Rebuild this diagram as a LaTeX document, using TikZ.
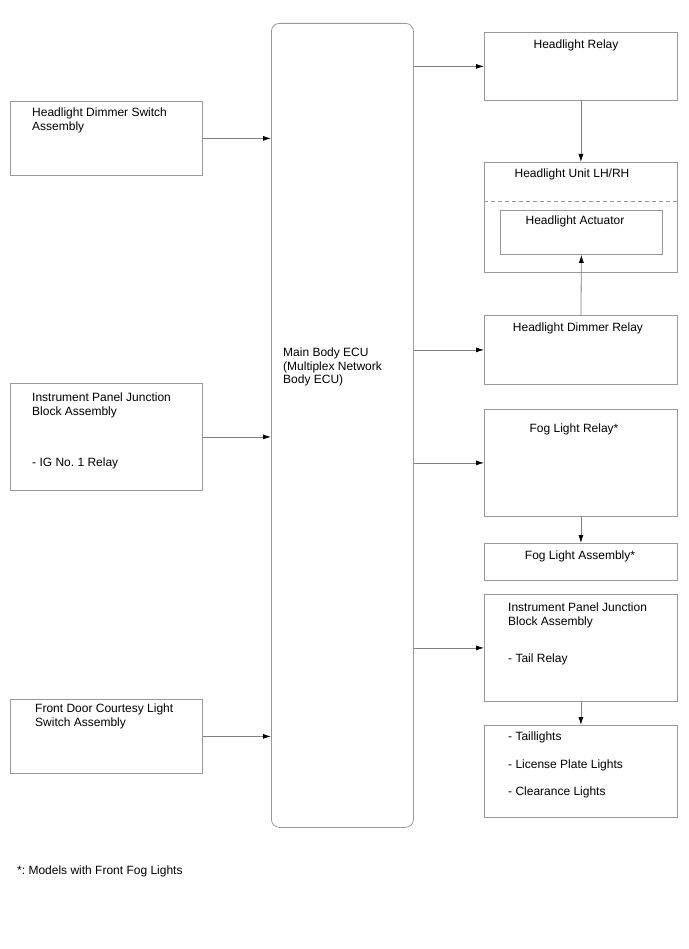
\documentclass[tikz,border=0pt]{standalone}
\usepackage{fontspec}
\setmainfont{Liberation Sans}
\frenchspacing
\usetikzlibrary{arrows.meta,calc,positioning}
\definecolor{edge}{HTML}{999999}
\definecolor{wire}{HTML}{808080}
\tikzset{pin/.style={-{Latex[length=8pt,width=5pt,black]}, draw=wire, line width=0.8pt},
  blk/.style={draw=edge, line width=0.8pt, anchor=north west, inner sep=0},
  txt/.style={font=\fontsize{12}{13.5}\selectfont, align=left, inner sep=0}}

\begin{document}
\begin{tikzpicture}[x=1pt, y=-1pt]
  \useasboundingbox (0,0) rectangle (688,949);
  % inputs
  \node[blk, minimum width=192, minimum height=74] (dimsw) at (10,101) {};
  \node[blk, minimum width=192, minimum height=107] (ipjbin) at (10,383) {};
  \node[blk, minimum width=192, minimum height=74] (courtesy) at (10,699) {};
  \node[blk, minimum width=142, minimum height=804, rounded corners=8pt] (ecu) at (271,23) {};
  % outputs
  \node[blk, minimum width=193, minimum height=68] (hrelay) at (484,32) {};
  \node[blk, minimum width=193, minimum height=110] (hunit) at (484,162) {};
  \node[blk, minimum width=162, minimum height=44] (actuator) at (500,210) {};
  \node[blk, minimum width=193, minimum height=69] (dimrelay) at (484,315) {};
  \node[blk, minimum width=193, minimum height=107] (fogrelay) at (484,409) {};
  \node[blk, minimum width=193, minimum height=37] (fogassy) at (484,543) {};
  \node[blk, minimum width=193, minimum height=107] (ipjbout) at (484,594) {};
  \node[blk, minimum width=193, minimum height=92] (lamps) at (484,725) {};
  \draw[edge, line width=0.8pt, dash pattern=on 4pt off 3pt] ($(hunit.north west)+(0,39)$) -- ($(hunit.north east)+(0,39)$);

  \node[txt, anchor=north west] (dimswtxt) at (32,108) {Headlight Dimmer Switch\\Assembly};
  \node[txt, anchor=north west] (ipjbintxt) at (32,393) {Instrument Panel Junction\\Block Assembly\\[38pt]- IG No. 1 Relay};
  \node[txt, anchor=north west] (courtesytxt) at (35,704) {Front Door Courtesy Light\\Switch Assembly};
  \node[txt, anchor=north west] (ecutxt) at (283,348) {Main Body ECU\\(Multiplex Network\\Body ECU)};
  \node[txt, anchor=north] (hrelaytxt) at (576,40) {Headlight Relay};
  \node[txt, anchor=north] (hunittxt) at (572,169) {Headlight Unit LH/RH};
  \node[txt, anchor=north] (actuatortxt) at (575,216) {Headlight Actuator};
  \node[txt, anchor=north] (dimrelaytxt) at (578,323) {Headlight Dimmer Relay};
  \node[txt, anchor=north] (fogrelaytxt) at (574,424) {Fog Light Relay*};
  \node[txt, anchor=north] (fogassytxt) at (580,551) {Fog Light Assembly*};
  \node[txt, anchor=north west] (ipjbouttxt) at (508,603) {Instrument Panel Junction\\Block Assembly\\[24pt]- Tail Relay};
  \node[txt, anchor=north west] (lampstxt) at (508,732) {- Taillights\\[14pt]- License Plate Lights\\[14pt]- Clearance Lights};
  \node[txt, anchor=north west] (note) at (17,866) {*: Models with Front Fog Lights};

  \draw[pin] (dimsw.east) -- (dimsw.east -| ecu.west);
  \draw[pin] (ipjbin.east) -- (ipjbin.east -| ecu.west);
  \draw[pin] (courtesy.east) -- (courtesy.east -| ecu.west);
  \draw[pin] (hrelay.west -| ecu.east) -- (hrelay.west);
  \draw[pin] (dimrelay.west -| ecu.east) -- (dimrelay.west);
  \draw[pin] (fogrelay.west -| ecu.east) -- (fogrelay.west);
  \draw[pin] (ipjbout.west -| ecu.east) -- (ipjbout.west);
  \draw[pin] (hrelay.south) -- (hunit.north);
  \draw[pin] (dimrelay.north) -- (actuator.south);
  \draw[pin] (fogrelay.south) -- (fogassy.north);
  \draw[pin] (ipjbout.south) -- (lamps.north);
\end{tikzpicture}
\end{document}
